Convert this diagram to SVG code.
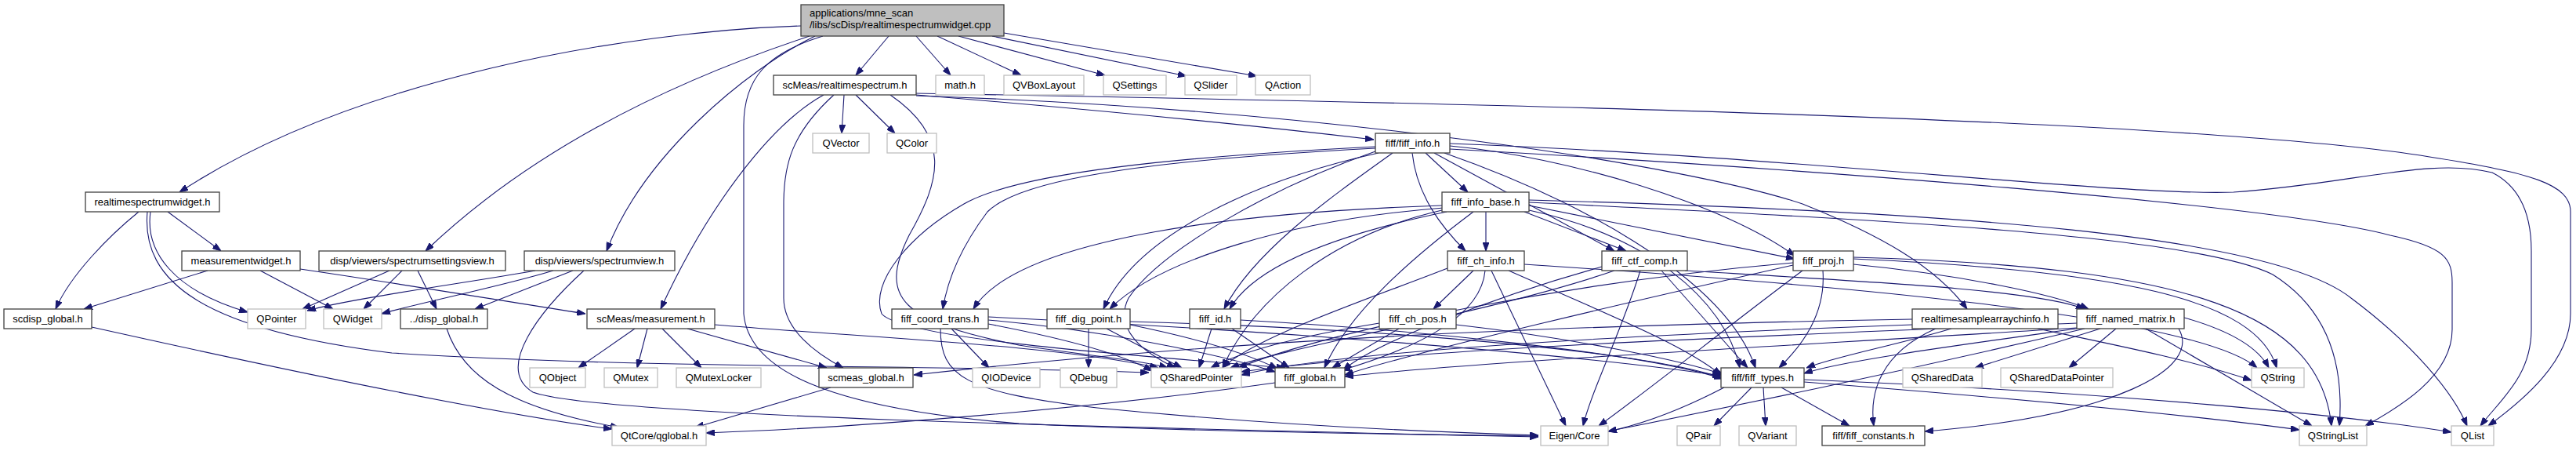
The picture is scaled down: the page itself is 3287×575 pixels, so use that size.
<svg xmlns="http://www.w3.org/2000/svg" width="3287" height="575" viewBox="0 0 3287 575">
<style>
.e{fill:none;stroke:#191970;stroke-width:1.1}
.n rect{fill:#fff;stroke:#404040;stroke-width:1.3}
.x rect{fill:#fff;stroke:#bfbfbf;stroke-width:1.3}
.r rect{fill:#bfbfbf;stroke:#404040;stroke-width:1.3}
text{font-family:"Liberation Sans",Arial,sans-serif;font-size:13px;fill:#000}
.c{text-anchor:middle}
</style>
<defs>
<marker id="a" markerUnits="userSpaceOnUse" markerWidth="11" markerHeight="8" refX="11" refY="4" orient="auto"><path d="M0,0 L11,4 L0,8 z" fill="#191970" stroke="#191970"/></marker>
</defs>
<rect width="3287" height="575" fill="#fff"/>
<g id="edges" marker-end="url(#a)">
<path class="e" d="M1022,33 C800,40 450,100 229,245"/>
<path class="e" d="M1134,46 L1092,96"/>
<path class="e" d="M1169,46 L1213,96"/>
<path class="e" d="M1196,46 L1303,96"/>
<path class="e" d="M1223,46 L1410,96"/>
<path class="e" d="M1266,46 L1514,97"/>
<path class="e" d="M1281,42 L1604,97"/>
<path class="e" d="M1033,46 C900,90 700,170 543,320"/>
<path class="e" d="M1040,46 C950,90 820,200 774,320"/>
<path class="e" d="M1050,46 C978,68 949,100 949,160 L949,400 C955,470 1050,520 1300,540 C1500,550 1800,554 1963,556"/>
<path class="e" d="M177,270 C140,300 90,350 71,394"/>
<path class="e" d="M192,270 C185,320 220,370 316,398"/>
<path class="e" d="M214,270 L282,320"/>
<path class="e" d="M188,270 C180,360 260,420 500,450 C800,470 1200,465 1466,475"/>
<path class="e" d="M265,345 L107,394"/>
<path class="e" d="M332,345 L425,394"/>
<path class="e" d="M383,343 C500,360 650,385 747,400"/>
<path class="e" d="M497,345 L386,394"/>
<path class="e" d="M513,345 L464,394"/>
<path class="e" d="M533,345 L557,394"/>
<path class="e" d="M683,345 C600,360 450,380 392,396"/>
<path class="e" d="M706,345 C640,365 540,385 487,400"/>
<path class="e" d="M731,345 L606,394"/>
<path class="e" d="M745,345 C690,395 630,470 680,500 C760,530 1400,545 1963,557"/>
<path class="e" d="M117,417 C400,480 650,530 781,547"/>
<path class="e" d="M570,419 C590,480 650,520 790,545"/>
<path class="e" d="M810,419 L738,469"/>
<path class="e" d="M826,419 L813,469"/>
<path class="e" d="M845,419 L895,469"/>
<path class="e" d="M877,419 L1055,469"/>
<path class="e" d="M912,414 C1100,430 1350,440 1478,469"/>
<path class="e" d="M1060,494 L887,545"/>
<path class="e" d="M1077,121 L1074,170"/>
<path class="e" d="M1092,121 L1142,170"/>
<path class="e" d="M1051,121 C980,160 900,270 843,394"/>
<path class="e" d="M1064,121 C1010,170 1000,210 1000,260 L1000,380 C1000,420 1040,450 1076,469"/>
<path class="e" d="M1169,121 C1400,140 1600,160 1753,178"/>
<path class="e" d="M1169,122 C1700,140 2150,210 2300,260 C2400,300 2470,340 2510,394"/>
<path class="e" d="M1169,119 C1800,130 2800,150 3100,200 C3230,220 3280,235 3280,270 L3280,400 C3280,460 3220,510 3175,543"/>
<path class="e" d="M1136,121 C1215,175 1200,230 1160,300 C1120,380 1150,410 1300,440 C1400,455 1460,460 1490,469"/>
<path class="e" d="M1819,195 L1873,245"/>
<path class="e" d="M1755,189 C1450,205 1300,230 1260,270 C1230,310 1210,350 1203,394"/>
<path class="e" d="M1759,195 C1600,230 1450,300 1408,394"/>
<path class="e" d="M1777,195 C1700,250 1600,320 1562,394"/>
<path class="e" d="M1802,195 C1808,250 1840,290 1870,320"/>
<path class="e" d="M1830,195 L2060,320"/>
<path class="e" d="M1850,186 C2000,200 2200,260 2290,326"/>
<path class="e" d="M1843,195 C2000,250 2200,350 2240,469"/>
<path class="e" d="M1755,193 C1620,240 1480,320 1440,380 C1420,420 1460,450 1500,469"/>
<path class="e" d="M1755,187 C1500,200 1300,220 1230,260 C1160,300 1110,360 1125,400 C1150,430 1400,450 1640,469"/>
<path class="e" d="M1850,183 C2300,200 2700,250 2850,245 C3000,235 3100,200 3180,220 C3220,240 3230,280 3230,320 L3230,420 C3230,480 3190,510 3165,543"/>
<path class="e" d="M1850,190 C2300,215 2900,260 3050,300 C3120,315 3129,330 3129,360 L3129,420 C3129,480 3060,520 3018,543"/>
<path class="e" d="M1896,270 L1896,320"/>
<path class="e" d="M1840,262 C1600,270 1300,300 1242,394"/>
<path class="e" d="M1842,265 C1650,280 1480,330 1416,394"/>
<path class="e" d="M1846,270 C1700,300 1600,340 1569,394"/>
<path class="e" d="M1945,270 L2075,320"/>
<path class="e" d="M1951,262 L2290,330"/>
<path class="e" d="M1951,268 C2100,300 2200,380 2220,469"/>
<path class="e" d="M1880,270 C1800,330 1720,400 1690,469"/>
<path class="e" d="M1840,268 C1700,300 1600,380 1560,469"/>
<path class="e" d="M1951,258 C2400,280 2800,300 2900,350 C2980,400 2990,480 2985,543"/>
<path class="e" d="M1951,255 C2500,270 2900,300 3000,380 C3080,440 3130,500 3148,543"/>
<path class="e" d="M1880,345 L1829,394"/>
<path class="e" d="M1895,345 C1890,400 1820,440 1712,472"/>
<path class="e" d="M1925,345 C2050,400 2150,440 2196,478"/>
<path class="e" d="M1903,345 L1998,543"/>
<path class="e" d="M1847,342 C1750,380 1600,430 1560,469"/>
<path class="e" d="M1945,337 C2300,360 2800,400 2880,469"/>
<path class="e" d="M1785,419 L1700,469"/>
<path class="e" d="M1858,414 C2000,430 2150,460 2200,478"/>
<path class="e" d="M1760,412 C1650,430 1580,450 1545,469"/>
<path class="e" d="M2044,340 C1900,380 1750,440 1714,472"/>
<path class="e" d="M2150,345 C2400,360 2600,370 2660,394"/>
<path class="e" d="M2120,345 L2230,469"/>
<path class="e" d="M2093,345 C2070,420 2030,500 2020,543"/>
<path class="e" d="M2060,345 C1900,400 1650,440 1570,469"/>
<path class="e" d="M2288,338 C2100,380 1800,450 1716,478"/>
<path class="e" d="M2365,337 C2500,350 2620,375 2665,394"/>
<path class="e" d="M2326,345 C2330,400 2300,440 2270,469"/>
<path class="e" d="M2300,345 C2200,420 2100,500 2040,543"/>
<path class="e" d="M2365,330 C2700,345 2880,380 2905,469"/>
<path class="e" d="M2365,328 C2800,340 2960,400 2975,543"/>
<path class="e" d="M2288,335 C2000,360 1700,420 1580,469"/>
<path class="e" d="M2650,418 C2300,440 1900,460 1716,480"/>
<path class="e" d="M2650,419 C2500,440 2350,460 2302,476"/>
<path class="e" d="M2780,419 C2810,470 2700,530 2456,550"/>
<path class="e" d="M2660,419 C2400,480 2200,520 2052,550"/>
<path class="e" d="M2680,419 L2520,469"/>
<path class="e" d="M2700,419 L2640,469"/>
<path class="e" d="M2738,419 L2950,543"/>
<path class="e" d="M2787,405 C2840,420 2880,440 2895,469"/>
<path class="e" d="M2650,412 C2200,430 1800,445 1584,474"/>
<path class="e" d="M1214,419 L1262,469"/>
<path class="e" d="M1261,413 C1350,430 1430,450 1470,473"/>
<path class="e" d="M1261,408 C1400,420 1550,450 1627,474"/>
<path class="e" d="M1261,404 C1600,420 2000,450 2196,479"/>
<path class="e" d="M1200,419 C1200,480 1230,500 1400,520 C1600,540 1800,550 1963,555"/>
<path class="e" d="M1389,419 L1389,469"/>
<path class="e" d="M1412,419 L1508,469"/>
<path class="e" d="M1442,414 C1520,430 1590,450 1630,470"/>
<path class="e" d="M1442,410 C1800,420 2100,450 2196,481"/>
<path class="e" d="M1546,419 L1530,469"/>
<path class="e" d="M1572,419 L1645,469"/>
<path class="e" d="M1583,408 C1800,420 2100,450 2198,483"/>
<path class="e" d="M2273,494 L2360,543"/>
<path class="e" d="M2200,494 C2150,520 2100,540 2052,550"/>
<path class="e" d="M2235,494 L2187,543"/>
<path class="e" d="M2250,494 L2253,543"/>
<path class="e" d="M2302,484 C2700,500 3000,530 3128,551"/>
<path class="e" d="M2302,487 C2600,510 2800,530 2934,548"/>
<path class="e" d="M1627,488 C1400,520 1100,545 901,552"/>
<path class="e" d="M2440,407 C2000,415 1600,430 1166,478"/>
<path class="e" d="M2490,419 C2420,440 2340,455 2305,469"/>
<path class="e" d="M2470,419 C2400,450 2385,500 2391,543"/>
<path class="e" d="M2440,414 C2000,430 1700,450 1584,478"/>
<path class="e" d="M2600,419 C2700,440 2800,460 2873,485"/>
</g>
<g id="root" class="r"><rect x="1022" y="6" width="259" height="40"/><text x="1033" y="21">applications/mne_scan</text><text x="1033" y="36">/libs/scDisp/realtimespectrumwidget.cpp</text></g>
<g id="rts" class="n"><rect x="987" y="96" width="182" height="25"/><text class="c" x="1078" y="113">scMeas/realtimespectrum.h</text></g>
<g id="math" class="x"><rect x="1194" y="96" width="62" height="25"/><text class="c" x="1225" y="113">math.h</text></g>
<g id="qvbox" class="x"><rect x="1281" y="96" width="102" height="25"/><text class="c" x="1332" y="113">QVBoxLayout</text></g>
<g id="qsettings" class="x"><rect x="1408" y="96" width="80" height="25"/><text class="c" x="1448" y="113">QSettings</text></g>
<g id="qslider" class="x"><rect x="1512" y="96" width="66" height="25"/><text class="c" x="1545" y="113">QSlider</text></g>
<g id="qaction" class="x"><rect x="1602" y="96" width="70" height="25"/><text class="c" x="1637" y="113">QAction</text></g>
<g id="qvector" class="x"><rect x="1037" y="170" width="72" height="25"/><text class="c" x="1073" y="187">QVector</text></g>
<g id="qcolor" class="x"><rect x="1132" y="170" width="63" height="25"/><text class="c" x="1163.5" y="187">QColor</text></g>
<g id="fiffinfo" class="n"><rect x="1755" y="170" width="95" height="25"/><text class="c" x="1802.5" y="187">fiff/fiff_info.h</text></g>
<g id="rsw" class="n"><rect x="109" y="245" width="171" height="25"/><text class="c" x="194.5" y="262">realtimespectrumwidget.h</text></g>
<g id="fiffinfobase" class="n"><rect x="1840" y="245" width="111" height="25"/><text class="c" x="1895.5" y="262">fiff_info_base.h</text></g>
<g id="mw" class="n"><rect x="232" y="320" width="151" height="25"/><text class="c" x="307.5" y="337">measurementwidget.h</text></g>
<g id="ssv" class="n"><rect x="407" y="320" width="238" height="25"/><text class="c" x="526" y="337">disp/viewers/spectrumsettingsview.h</text></g>
<g id="sv" class="n"><rect x="669" y="320" width="192" height="25"/><text class="c" x="765" y="337">disp/viewers/spectrumview.h</text></g>
<g id="chinfo" class="n"><rect x="1847" y="320" width="98" height="25"/><text class="c" x="1896" y="337">fiff_ch_info.h</text></g>
<g id="ctfcomp" class="n"><rect x="2044" y="320" width="109" height="25"/><text class="c" x="2098.5" y="337">fiff_ctf_comp.h</text></g>
<g id="proj" class="n"><rect x="2288" y="320" width="77" height="25"/><text class="c" x="2326.5" y="337">fiff_proj.h</text></g>
<g id="scdisp" class="n"><rect x="5" y="394" width="112" height="25"/><text class="c" x="61" y="411">scdisp_global.h</text></g>
<g id="qpointer" class="x"><rect x="316" y="394" width="74" height="25"/><text class="c" x="353" y="411">QPointer</text></g>
<g id="qwidget" class="x"><rect x="413" y="394" width="74" height="25"/><text class="c" x="450" y="411">QWidget</text></g>
<g id="dispglobal" class="n"><rect x="511" y="394" width="111" height="25"/><text class="c" x="566.5" y="411">../disp_global.h</text></g>
<g id="meas" class="n"><rect x="749" y="394" width="163" height="25"/><text class="c" x="830.5" y="411">scMeas/measurement.h</text></g>
<g id="coordtrans" class="n"><rect x="1138" y="394" width="123" height="25"/><text class="c" x="1199.5" y="411">fiff_coord_trans.h</text></g>
<g id="digpoint" class="n"><rect x="1336" y="394" width="106" height="25"/><text class="c" x="1389" y="411">fiff_dig_point.h</text></g>
<g id="fiffid" class="n"><rect x="1518" y="394" width="65" height="25"/><text class="c" x="1550.5" y="411">fiff_id.h</text></g>
<g id="chpos" class="n"><rect x="1760" y="394" width="98" height="25"/><text class="c" x="1809" y="411">fiff_ch_pos.h</text></g>
<g id="rtsaci" class="n"><rect x="2440" y="394" width="186" height="25"/><text class="c" x="2533" y="411">realtimesamplearraychinfo.h</text></g>
<g id="namedmatrix" class="n"><rect x="2650" y="394" width="137" height="25"/><text class="c" x="2718.5" y="411">fiff_named_matrix.h</text></g>
<g id="qobject" class="x"><rect x="676" y="469" width="71" height="25"/><text class="c" x="711.5" y="486">QObject</text></g>
<g id="qmutex" class="x"><rect x="771" y="469" width="68" height="25"/><text class="c" x="805" y="486">QMutex</text></g>
<g id="qmutexlocker" class="x"><rect x="863" y="469" width="108" height="25"/><text class="c" x="917" y="486">QMutexLocker</text></g>
<g id="scmeas" class="n"><rect x="1045" y="469" width="120" height="25"/><text class="c" x="1105" y="486">scmeas_global.h</text></g>
<g id="qiodevice" class="x"><rect x="1241" y="469" width="86" height="25"/><text class="c" x="1284" y="486">QIODevice</text></g>
<g id="qdebug" class="x"><rect x="1353" y="469" width="72" height="25"/><text class="c" x="1389" y="486">QDebug</text></g>
<g id="qsharedptr" class="x"><rect x="1469" y="469" width="115" height="25"/><text class="c" x="1526.5" y="486">QSharedPointer</text></g>
<g id="fiffglobal" class="n"><rect x="1627" y="469" width="89" height="25"/><text class="c" x="1671.5" y="486">fiff_global.h</text></g>
<g id="fifftypes" class="n"><rect x="2196" y="469" width="106" height="25"/><text class="c" x="2249" y="486">fiff/fiff_types.h</text></g>
<g id="qshareddata" class="x"><rect x="2428" y="469" width="101" height="25"/><text class="c" x="2478.5" y="486">QSharedData</text></g>
<g id="qshareddataptr" class="x"><rect x="2553" y="469" width="143" height="25"/><text class="c" x="2624.5" y="486">QSharedDataPointer</text></g>
<g id="qstring" class="x"><rect x="2873" y="469" width="67" height="25"/><text class="c" x="2906.5" y="486">QString</text></g>
<g id="qglobal" class="x"><rect x="781" y="543" width="120" height="25"/><text class="c" x="841" y="560">QtCore/qglobal.h</text></g>
<g id="eigen" class="x"><rect x="1966" y="543" width="86" height="25"/><text class="c" x="2009" y="560">Eigen/Core</text></g>
<g id="qpair" class="x"><rect x="2140" y="543" width="55" height="25"/><text class="c" x="2167.5" y="560">QPair</text></g>
<g id="qvariant" class="x"><rect x="2219" y="543" width="73" height="25"/><text class="c" x="2255.5" y="560">QVariant</text></g>
<g id="fiffconstants" class="n"><rect x="2325" y="543" width="131" height="25"/><text class="c" x="2390.5" y="560">fiff/fiff_constants.h</text></g>
<g id="qstringlist" class="x"><rect x="2934" y="543" width="86" height="25"/><text class="c" x="2977" y="560">QStringList</text></g>
<g id="qlist" class="x"><rect x="3128" y="543" width="54" height="25"/><text class="c" x="3155" y="560">QList</text></g>
</svg>
